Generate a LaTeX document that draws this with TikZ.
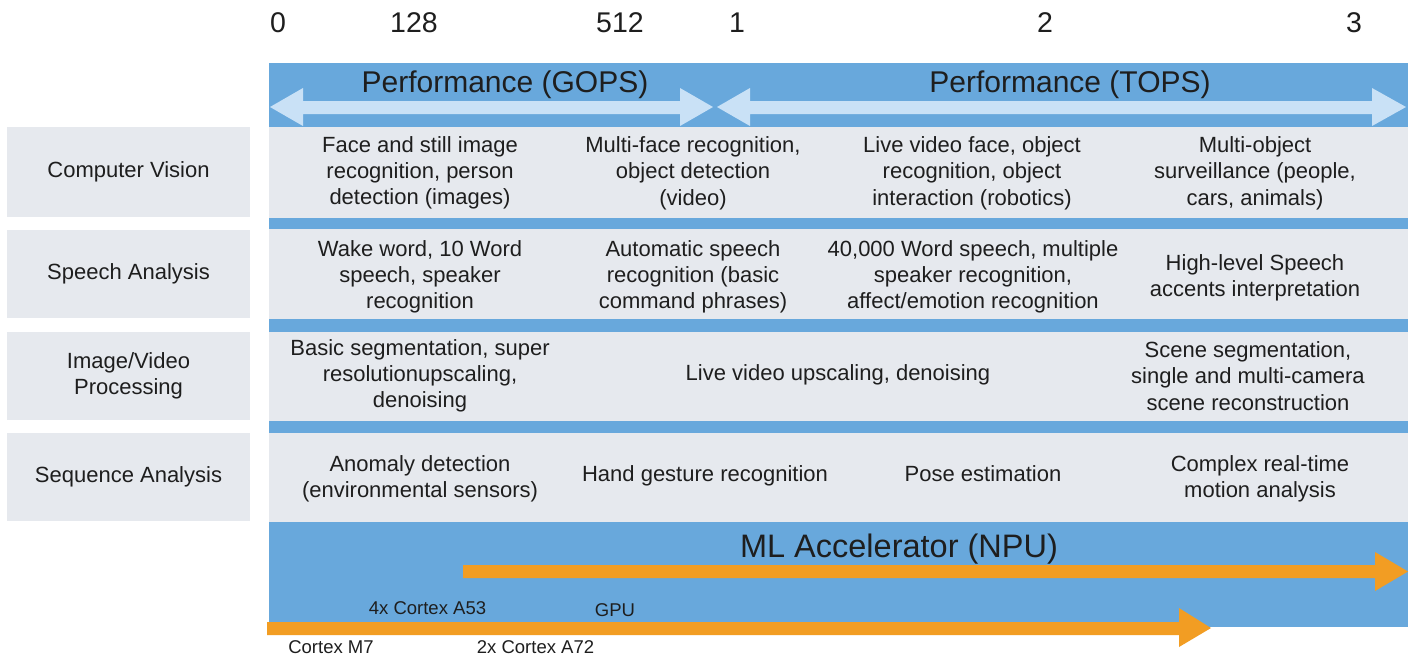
\documentclass[tikz,border=0pt]{standalone}
\usepackage{fontspec}
\setmainfont{Liberation Sans}
\definecolor{panelblue}{RGB}{104,168,220}
\definecolor{rowgray}{RGB}{230,233,238}
\definecolor{arrowlight}{RGB}{201,225,246}
\definecolor{npuorange}{RGB}{242,157,35}
\definecolor{txt}{RGB}{30,30,30}
\begin{document}
\begin{tikzpicture}[x=1pt,y=-1pt,
  cell/.style={align=center,text=txt,font=\fontsize{22}{26.3}\selectfont,inner sep=0pt},
  lbl/.style={fill=rowgray,align=center,text=txt,font=\fontsize{22}{26}\selectfont,minimum width=243pt,inner sep=0pt},
  num/.style={text=txt,font=\fontsize{28.5}{30}\selectfont,inner sep=0pt},
  head/.style={text=txt,font=\fontsize{30}{32}\selectfont,inner sep=0pt},
  small/.style={text=txt,font=\fontsize{18.5}{20}\selectfont,inner sep=0pt}]
\useasboundingbox (0,0) rectangle (1414,657);
\fill[white] (0,0) rectangle (1414,657);
% panel
\fill[panelblue] (269,63) rectangle (1408,627);
% rows
\fill[rowgray] (269,127) rectangle (1408,218);
\fill[rowgray] (269,229) rectangle (1408,319);
\fill[rowgray] (269,332) rectangle (1408,421);
\fill[rowgray] (269,433) rectangle (1408,522);
% left labels
\node[lbl,minimum height=90pt] (cv) at (128.5,172) {Computer Vision};
\node[lbl,minimum height=88pt] (sa) at (128.5,274) {Speech Analysis};
\node[lbl,minimum height=88pt] (ivp) at (128.5,376) {Image/Video\\Processing};
\node[lbl,minimum height=88pt] (sq) at (128.5,477) {Sequence Analysis};
% scale numbers
\node[num] (n0) at (278,23) {0};
\node[num] (n128) at (414,23) {128};
\node[num] (n512) at (620,23) {512};
\node[num] (n1) at (737,23) {1};
\node[num] (n2) at (1045,23) {2};
\node[num] (n3) at (1354,23) {3};
% performance arrows
\fill[arrowlight] (270,107) -- (303,88) -- (303,101) -- (680,101) -- (680,88) -- (713,107) -- (680,126) -- (680,114) -- (303,114) -- (303,126) -- cycle;
\fill[arrowlight] (717,107) -- (750,88) -- (750,101) -- (1372,101) -- (1372,88) -- (1406,107) -- (1372,126) -- (1372,114) -- (750,114) -- (750,126) -- cycle;
\node[head] (gops) at (505,85) {Performance (GOPS)};
\node[head] (tops) at (1070,85) {Performance (TOPS)};
% row 1
\node[cell] (r1a) at (420,173) {Face and still image\\recognition, person\\detection (images)};
\node[cell] (r1b) at (693,173) {Multi-face recognition,\\object detection\\(video)};
\node[cell] (r1c) at (972,173) {Live video face, object\\recognition, object\\interaction (robotics)};
\node[cell] (r1d) at (1255,173) {Multi-object\\surveillance (people,\\cars, animals)};
% row 2
\node[cell] (r2a) at (420,277) {Wake word, 10 Word\\speech, speaker\\recognition};
\node[cell] (r2b) at (693,277) {Automatic speech\\recognition (basic\\command phrases)};
\node[cell] (r2c) at (973,277) {40,000 Word speech, multiple\\speaker recognition,\\affect/emotion recognition};
\node[cell] (r2d) at (1255,278) {High-level Speech\\accents interpretation};
% row 3
\node[cell] (r3a) at (420,376) {Basic segmentation, super\\resolutionupscaling,\\denoising};
\node[cell] (r3b) at (838,375) {Live video upscaling, denoising};
\node[cell] (r3c) at (1248,376) {Scene segmentation,\\single and multi-camera\\scene reconstruction};
% row 4
\node[cell] (r4a) at (420,479) {Anomaly detection\\(environmental sensors)};
\node[cell] (r4b) at (705,476) {Hand gesture recognition};
\node[cell] (r4c) at (983,474) {Pose estimation};
\node[cell] (r4d) at (1260,479) {Complex real-time\\motion analysis};
% NPU
\node[head,font=\fontsize{32.5}{34}\selectfont] (npu) at (899,549) {ML Accelerator (NPU)};
\fill[npuorange] (463,565) -- (1375,565) -- (1375,552) -- (1408,571.5) -- (1375,591) -- (1375,578) -- (463,578) -- cycle;
\fill[npuorange] (267,622) -- (1179,622) -- (1179,608) -- (1211,628) -- (1179,647) -- (1179,635) -- (267,635) -- cycle;
\node[small] (a53) at (427.5,608) {4x Cortex A53};
\node[small] (gpu) at (615,610) {GPU};
\node[small] (m7) at (331,647) {Cortex M7};
\node[small] (a72) at (535.5,647) {2x Cortex A72};
\end{tikzpicture}
\end{document}
